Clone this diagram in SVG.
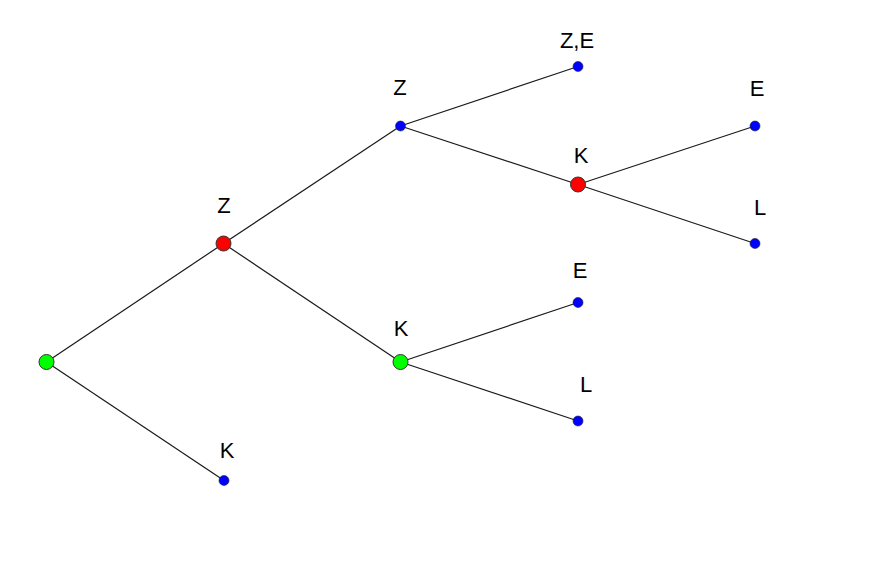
<svg xmlns="http://www.w3.org/2000/svg" width="880" height="575" viewBox="0 0 880 575">
<style>
.e{stroke:#1a1a1a;stroke-width:1.2;fill:none}
.big{stroke:#333;stroke-width:1}
.small{stroke:#222;stroke-width:0.6;fill:#0000ff}
.g{fill:#00ff00}
.r{fill:#ff0000}
text{font-family:"Liberation Sans",Arial,sans-serif;font-size:22px;fill:#000;text-anchor:middle}
</style>
<rect width="880" height="575" fill="#fff"/>
<g id="edges">
<line class="e" x1="46.5" y1="362" x2="223.5" y2="243.5"/>
<line class="e" x1="46.5" y1="362" x2="224" y2="480.5"/>
<line class="e" x1="223.5" y1="243.5" x2="400.5" y2="126"/>
<line class="e" x1="223.5" y1="243.5" x2="400.5" y2="362"/>
<line class="e" x1="400.5" y1="126" x2="578" y2="66.5"/>
<line class="e" x1="400.5" y1="126" x2="578" y2="184.5"/>
<line class="e" x1="578" y1="184.5" x2="755" y2="126"/>
<line class="e" x1="578" y1="184.5" x2="755" y2="243.5"/>
<line class="e" x1="400.5" y1="362" x2="578" y2="302.5"/>
<line class="e" x1="400.5" y1="362" x2="578" y2="421"/>
</g>
<g id="n0"><circle class="big g" cx="46.5" cy="362" r="7.5"/></g>
<g id="n1"><circle class="big r" cx="223.5" cy="243.5" r="7.5"/><text x="224" y="213">Z</text></g>
<g id="n2"><circle class="small" cx="224" cy="480.5" r="5"/><text x="227" y="458">K</text></g>
<g id="n3"><circle class="small" cx="400.5" cy="126" r="5"/><text x="400" y="95">Z</text></g>
<g id="n4"><circle class="big g" cx="400.5" cy="362" r="7.5"/><text x="401" y="336">K</text></g>
<g id="n5"><circle class="small" cx="578" cy="66.5" r="5"/><text x="577" y="48">Z,E</text></g>
<g id="n6"><circle class="big r" cx="578" cy="184.5" r="7.5"/><text x="581" y="163">K</text></g>
<g id="n7"><circle class="small" cx="578" cy="302.5" r="5"/><text x="580" y="278">E</text></g>
<g id="n8"><circle class="small" cx="578" cy="421" r="5"/><text x="586" y="392">L</text></g>
<g id="n9"><circle class="small" cx="755" cy="126" r="5"/><text x="757" y="96">E</text></g>
<g id="n10"><circle class="small" cx="755" cy="243.5" r="5"/><text x="760" y="215">L</text></g>
</svg>
